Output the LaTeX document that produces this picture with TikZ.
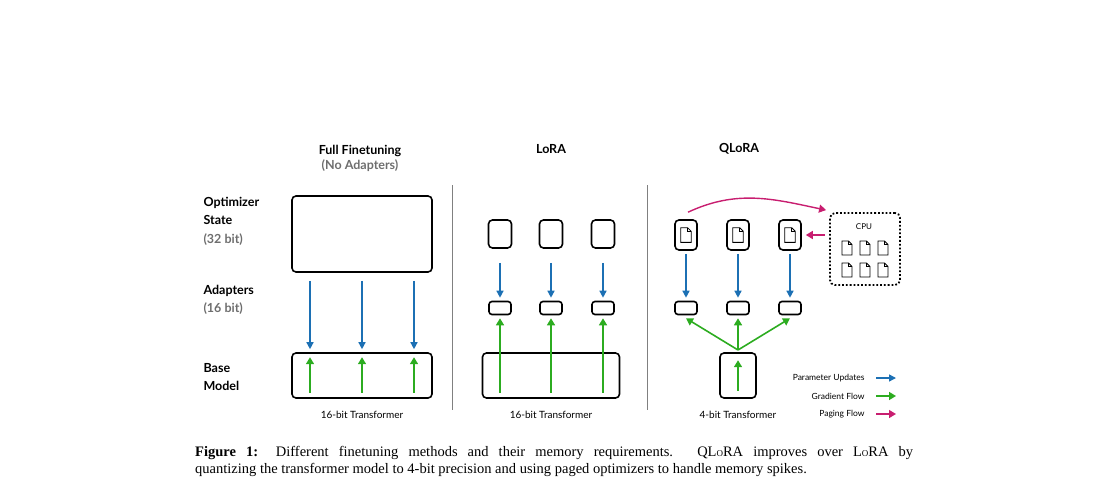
\documentclass[tikz,border=0pt]{standalone}
\usepackage{fontspec}
\setmainfont{Liberation Serif}
\newfontfamily\labfont{Lato}
\usetikzlibrary{arrows.meta}
\definecolor{updblue}{RGB}{28,112,180}
\definecolor{gradgreen}{RGB}{44,172,32}
\definecolor{pagepink}{RGB}{200,30,112}
\definecolor{labgray}{RGB}{110,110,110}
\tikzset{
  box/.style={draw,line width=1.6pt,rounded corners=4pt},
  upd/.style={updblue,line width=1.4pt,-{Triangle[length=7pt,width=7pt]}},
  grad/.style={gradgreen,line width=1.6pt,-{Triangle[length=7pt,width=8pt]}},
  paging/.style={pagepink,line width=1.4pt,-{Triangle[length=7pt,width=8pt]}},
  head/.style={font=\labfont\bfseries\fontsize{12.5}{15}\selectfont,align=center},
  rowlab/.style={font=\labfont\bfseries\fontsize{12.5}{18.5}\selectfont,align=left,anchor=west},
  sub/.style={font=\labfont\fontsize{10}{12}\selectfont},
  legend/.style={font=\labfont\fontsize{8.5}{10}\selectfont,anchor=east},
  doc/.pic={\draw[line width=0.8pt] (-5,7) -- (-5,-7) -- (1.5,-7) -- (5,-3.5) -- (5,7) -- cycle;
            \draw[line width=0.6pt] (1.5,-7) -- (1.5,-3.5) -- (5,-3.5);}
}
\begin{document}
\begin{tikzpicture}[x=1pt,y=-1pt]
  \useasboundingbox (0,0) rectangle (1105,500);
  %headers and row labels
  \node[head] (tfull) at (360,158) {Full Finetuning\\\textcolor{labgray}{(No Adapters)}};
  \node[head] (tlora) at (551,149) {LoRA};
  \node[head] (tqlora) at (739,149) {QLoRA};
  \node[rowlab] (lopt) at (200,221) {Optimizer\\State\\\textcolor{labgray}{(32 bit)}};
  \node[rowlab] (ladp) at (200,300) {Adapters\\\textcolor{labgray}{(16 bit)}};
  \node[rowlab] (lbase) at (200,377) {Base\\Model};
  \draw[line width=0.6pt,gray] (452,185) -- (452,410);
  \draw[line width=0.6pt,gray] (647,185) -- (647,410);

  %full finetuning
  \node[box,minimum width=140pt,minimum height=76pt] (fopt) at (362,234) {};
  \node[box,minimum width=140pt,minimum height=45pt] (fbase) at (362,375.5) {};
  \foreach \dx in {-52,0,52}{
    \draw[upd] ([xshift=\dx pt,yshift=-8pt]fopt.south) -- ([xshift=\dx pt,yshift=3pt]fbase.north);
    \draw[grad] ([xshift=\dx pt,yshift=6pt]fbase.south) -- ([xshift=\dx pt,yshift=-5pt]fbase.north);
  }
  \node[sub] (sfull) at (362,415) {16-bit Transformer};

  %lora
  \node[box,minimum width=137pt,minimum height=45pt] (lbox) at (551,375.5) {};
  \foreach \i/\x in {1/500,2/551,3/603}{
    \node[box,minimum width=23pt,minimum height=28pt] (lo\i) at (\x,234) {};
    \node[box,rounded corners=3pt,minimum width=22pt,minimum height=13pt] (la\i) at (\x,308) {};
    \draw[upd] ([yshift=-14pt]lo\i.south) -- ([yshift=3pt]la\i.north);
    \draw[grad] ([yshift=6pt]lo\i |- lbox.south) -- ([yshift=-3pt]la\i.south);
  }
  \node[sub] (slora) at (551,415) {16-bit Transformer};

  %qlora
  \node[box,minimum width=36pt,minimum height=45pt] (qbase) at (738,375.5) {};
  \draw[grad] ([yshift=8pt]qbase.south) -- ([yshift=-8pt]qbase.north);
  \coordinate (qfork) at (738,350);
  \foreach \i/\x in {1/686,2/738,3/790}{
    \node[box,minimum width=22pt,minimum height=30pt] (qo\i) at (\x,235) {};
    \pic[scale=1.05] at (qo\i) {doc};
    \node[box,rounded corners=3pt,minimum width=22pt,minimum height=13pt] (qa\i) at (\x,308) {};
    \draw[upd] ([yshift=-3pt]qo\i.south) -- ([yshift=3pt]qa\i.north);
    \draw[grad] (qfork) -- ([yshift=-3pt]qa\i.south);
  }
  \node[sub] (sqlora) at (738,415) {4-bit Transformer};

  %cpu
  \node[draw,line width=1.8pt,dotted,rounded corners=5pt,minimum width=70pt,minimum height=72pt] (cpu) at (865,249) {};
  \node[font=\labfont\fontsize{8}{10}\selectfont] (cpul) at (864,227) {CPU};
  \foreach \x in {847,865,883}
    \foreach \y in {248,270}
      \pic at (\x,\y) {doc};
  \draw[paging] ([xshift=2pt,yshift=7pt]qo1.north) to[out=25,in=168] ([xshift=-3pt,yshift=2pt]cpu.north west);
  \draw[paging] ([xshift=-4pt]cpu.west |- qo3) -- ([xshift=4pt]qo3.east);

  %legend
  \node[legend] (lg1) at (868,378) {Parameter Updates};
  \node[legend] (lg2) at (868,396) {Gradient Flow};
  \node[legend] (lg3) at (868,414) {Paging Flow};
  \draw[upd] ([xshift=8pt]lg1.east) -- ++(20,0);
  \draw[grad] ([xshift=8pt]lg2.east) -- ++(20,0);
  \draw[paging] ([xshift=8pt]lg3.east) -- ++(20,0);

  %caption
  \node[anchor=north west,text width=718pt,align=justify,font=\fontsize{14.5}{17}\selectfont,inner sep=0pt] (cap) at (195,446)
    {\textbf{Figure 1:} Different finetuning methods and their memory requirements. QL{\small O}RA improves over L{\small O}RA by\linebreak quantizing the transformer model to 4-bit precision and using paged optimizers to handle memory spikes.};
\end{tikzpicture}
\end{document}
